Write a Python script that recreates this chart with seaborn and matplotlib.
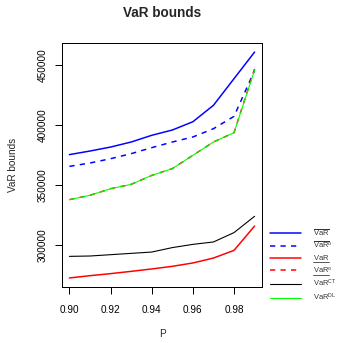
import numpy as np
import pandas as pd
import matplotlib
matplotlib.use("Agg")
import matplotlib.pyplot as plt
from matplotlib.lines import Line2D
import seaborn as sns

# ---- data ----
p = [0.90, 0.91, 0.92, 0.93, 0.94, 0.95, 0.96, 0.97, 0.98, 0.99]
var_upper = [375600, 378600, 381900, 386100, 391700, 396100, 403000, 416700, 438900, 461100]
var_upper_o = [365800, 368600, 372200, 376400, 381400, 386100, 390300, 397200, 407500, 445800]
var_lower = [272800, 274700, 276400, 278300, 280300, 282500, 285300, 289400, 295800, 316100]
var_lower_o = [338100, 341700, 347200, 350800, 358300, 363900, 375000, 386100, 393900, 447000]
var_ct = [290800, 291100, 292200, 293300, 294400, 298100, 300800, 302800, 310600, 324200]
var_dl = [338100, 341700, 347200, 350800, 358300, 363900, 375000, 386100, 393900, 446000]

series_names = ["upper", "upper_o", "lower", "lower_o", "CT", "DL"]
series_labels = [r"$\overline{\mathrm{VaR}}$", r"$\overline{\mathrm{VaR}}^{\mathrm{o}}$",
                 r"$\mathrm{VaR}$", r"$\mathrm{VaR}^{\mathrm{o}}$",
                 r"$\mathrm{VaR}^{\mathrm{CT}}$", r"$\mathrm{VaR}^{\mathrm{DL}}$"]
underlined = [False, False, True, True, False, False]
series_colors = ["#0000FF", "#0000FF", "#FF0000", "#FF0000", "#000000", "#00FF00"]
series_widths = [1.5, 1.5, 1.5, 1.5, 1.1, 1.1]
series_dashes = ["", (3.5, 3.5), "", (3.5, 3.5), "", ""]
x_ticks = [0.90, 0.92, 0.94, 0.96, 0.98]
x_ticklabels = ["0.90", "0.92", "0.94", "0.96", "0.98"]
y_ticks = [300000, 350000, 400000, 450000]
y_ticklabels = ["300000", "350000", "400000", "450000"]

values = [var_upper, var_upper_o, var_lower, var_lower_o, var_ct, var_dl]
df = pd.concat([pd.DataFrame({"P": p, "value": v, "series": n})
                for n, v in zip(series_names, values)], ignore_index=True)

# ---- style ----
sns.set_style("ticks")
plt.rcParams["font.family"] = ["Liberation Sans", "DejaVu Sans"]
plt.rcParams["mathtext.fontset"] = "custom"
plt.rcParams["mathtext.rm"] = "Liberation Sans"
plt.rcParams["mathtext.it"] = "Liberation Sans:italic"
plt.rcParams["mathtext.bf"] = "Liberation Sans:bold"

W, H = 338, 343
fig = plt.figure(figsize=(W / 72, H / 72), dpi=72)
ax = fig.add_axes([62 / W, 1 - 287 / H, 200 / W, 244 / H])

sns.lineplot(data=df, x="P", y="value", hue="series", style="series",
             hue_order=series_names, style_order=series_names,
             palette=dict(zip(series_names, series_colors)),
             dashes=dict(zip(series_names, series_dashes)),
             linewidth=1.2, legend=False, ax=ax, estimator=None, sort=False)
lines = ax.get_lines()[:len(series_names)]
for ln, lw in zip(lines, series_widths):
    ln.set_linewidth(lw)

ax.margins(x=0.04, y=0.04)
ax.set_xticks(x_ticks)
ax.set_xticklabels(x_ticklabels)
ax.set_yticks(y_ticks)
ax.set_yticklabels(y_ticklabels, rotation=90, va="center")
ax.tick_params(axis="both", direction="out", length=7, width=1, color="black",
               labelsize=10, labelcolor="black")
ax.tick_params(axis="x", pad=11)
ax.tick_params(axis="y", pad=7)
for s in ax.spines.values():
    s.set_visible(True)
    s.set_color("black")
    s.set_linewidth(1)

ax.set_xlabel("P", fontsize=10, labelpad=14)
ax.set_ylabel("VaR bounds", fontsize=10, labelpad=20)
fig.text(162 / W, 1 - 13 / H, "VaR bounds", ha="center", va="center",
         fontsize=13.5, fontweight="bold")

leg = fig.legend(lines, series_labels, loc="upper left",
                 bbox_to_anchor=(270 / W, 1 - 228 / H), frameon=False,
                 fontsize=7.5, handlelength=4.1, handletextpad=1.6,
                 labelspacing=0.35, borderpad=0, borderaxespad=0)
for t in leg.get_texts():
    t.set_color("#333333")

# underline for the lower-bound labels (mathtext has no \underline)
fig.canvas.draw()
renderer = fig.canvas.get_renderer()
texts = leg.get_texts()
base_w = texts[2].get_window_extent(renderer).width
for t, u in zip(texts, underlined):
    if u:
        bb = t.get_window_extent(renderer)
        y = bb.y0 + 0.5
        fig.add_artist(Line2D([bb.x0 / W, (bb.x0 + base_w) / W], [y / H, y / H],
                              color="#333333", linewidth=0.8,
                              transform=fig.transFigure))

fig.savefig("out.png", dpi=72)
